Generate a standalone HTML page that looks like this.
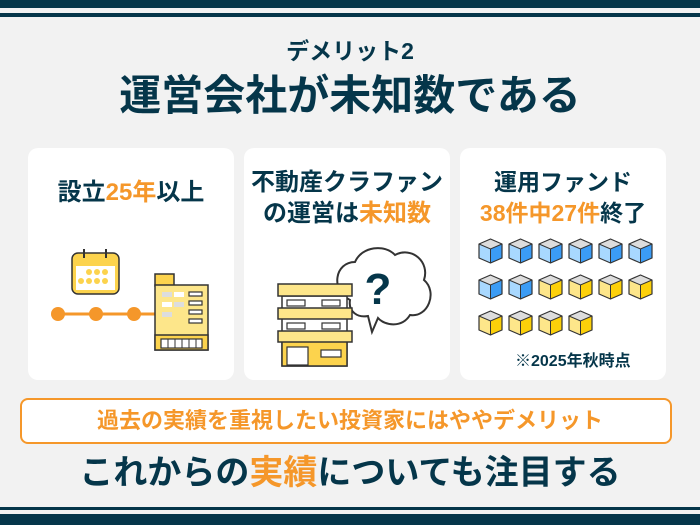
<!DOCTYPE html>
<html><head><meta charset="utf-8"><style>
body{margin:0;width:700px;height:525px;background:#f2f2f2;position:relative;overflow:hidden;font-family:"Liberation Sans","Noto Sans CJK JP",sans-serif;font-weight:bold;color:#05364a}
.abs{position:absolute}
.card{position:absolute;top:148px;width:206px;height:232px;background:#fff;border-radius:10px}
.t{position:absolute;left:0;right:0;text-align:center;white-space:nowrap}
.o{color:#f5972a}
</style></head><body>
<div class="abs" style="left:0;top:0;width:700px;height:8px;background:#05364a"></div>
<div class="abs" style="left:0;top:13px;width:700px;height:4px;background:#05364a"></div>
<div class="abs" style="left:0;top:507px;width:700px;height:3px;background:#05364a"></div>
<div class="abs" style="left:0;top:514px;width:700px;height:11px;background:#05364a"></div>

<div class="t" style="top:36px;font-size:23px;line-height:30px">デメリット2</div>
<div class="t" style="top:71px;font-size:42px;line-height:50px">運営会社が未知数である</div>

<div class="card" style="left:28px"></div>
<div class="card" style="left:244px"></div>
<div class="card" style="left:460px"></div>

<div class="t" style="left:28px;width:206px;top:178px;font-size:24px;line-height:30px">設立<span class="o">25年</span>以上</div>
<div class="t" style="left:244px;width:206px;top:167px;font-size:24px;line-height:31px">不動産クラファン<br>の運営は<span class="o">未知数</span></div>
<div class="t" style="left:460px;width:206px;top:167px;font-size:23px;line-height:31px">運用ファンド<br><span class="o">38件中27件</span>終了</div>
<div class="abs" style="left:515px;top:351px;font-size:16px;line-height:22px">※2025年秋時点</div>

<svg class="abs" style="left:0;top:0" width="700" height="525">
<g stroke="#333" stroke-width="1.5" stroke-linejoin="round">
<rect x="72" y="253" width="47" height="41" rx="6" fill="#fcd34d"/>
<rect x="76" y="266" width="39" height="24" fill="#fff" stroke="none"/>
</g>
<g fill="#fcd34d"><circle cx="89" cy="272" r="3"/><circle cx="97" cy="272" r="3"/><circle cx="105" cy="272" r="3"/>
<circle cx="81" cy="281" r="3"/><circle cx="89" cy="281" r="3"/><circle cx="97" cy="281" r="3"/><circle cx="105" cy="281" r="3"/></g>
<line x1="84" y1="249" x2="84" y2="258" stroke="#333" stroke-width="2"/><line x1="106" y1="249" x2="106" y2="258" stroke="#333" stroke-width="2"/>
<line x1="58" y1="314" x2="158" y2="314" stroke="#f5972a" stroke-width="3"/>
<circle cx="58" cy="314" r="7" fill="#f5972a"/><circle cx="96" cy="314" r="7" fill="#f5972a"/><circle cx="134" cy="314" r="7" fill="#f5972a"/>
<g stroke="#333" stroke-width="1.5">
<rect x="155" y="274" width="19" height="12" fill="#fcd34d"/>
<rect x="155" y="285" width="53" height="65" fill="#fde68a"/>
<rect x="155" y="335" width="53" height="15" fill="#fcd34d"/>
</g>
<g fill="#fff" stroke="#333" stroke-width="1.2">
<rect x="189" y="292" width="13" height="4"/><rect x="189" y="301" width="13" height="4"/><rect x="189" y="310" width="13" height="4"/><rect x="189" y="319" width="13" height="4"/>
<rect x="161" y="339" width="41" height="9"/></g>
<g fill="#ddd"><rect x="162" y="292" width="10" height="5"/><rect x="174" y="292" width="10" height="5" fill="#fff"/><rect x="162" y="302" width="10" height="5" fill="#fff"/><rect x="174" y="302" width="10" height="5"/><rect x="162" y="312" width="10" height="5"/></g>
<g stroke="#333" stroke-width="1"><line x1="168" y1="339" x2="168" y2="348"/><line x1="175" y1="339" x2="175" y2="348"/><line x1="182" y1="339" x2="182" y2="348"/><line x1="189" y1="339" x2="189" y2="348"/><line x1="196" y1="339" x2="196" y2="348"/></g>

<path d="M350 300 C330 290 335 262 355 262 C362 246 385 244 395 255 C412 246 430 262 424 280 C438 292 428 318 410 315 C402 328 385 326 378 318 L372 332 L368 316 C358 318 348 312 350 300Z" fill="#fff" stroke="#333" stroke-width="2"/>
<text x="378" y="304" font-size="44" text-anchor="middle" fill="#05364a" font-family="Liberation Sans" font-weight="bold">?</text>
<g stroke="#333" stroke-width="1.5">
<rect x="282" y="296" width="65" height="70" fill="#fff"/>
<rect x="282" y="341" width="65" height="25" fill="#fcd34d"/>
<rect x="278" y="284" width="74" height="12" fill="#fde68a"/>
<rect x="278" y="308" width="74" height="11" fill="#fde68a"/>
<rect x="278" y="331" width="74" height="11" fill="#fde68a"/>
</g>
<g fill="#fff" stroke="#333" stroke-width="1.2">
<rect x="287" y="300" width="18" height="6"/><rect x="322" y="300" width="18" height="6"/>
<rect x="287" y="323" width="18" height="6"/><rect x="322" y="323" width="18" height="6"/>
<rect x="287" y="347" width="21" height="18"/><rect x="321" y="350" width="20" height="7"/></g>

<defs><g id="cb"><polygon points="11.5,0 23,5 11.5,10 0,5" fill="#ddd"/><polygon points="0,5 11.5,10 11.5,24 0,19" fill="var(--l)"/><polygon points="11.5,10 23,5 23,19 11.5,24" fill="var(--r)"/><polygon points="11.5,0 23,5 23,19 11.5,24 0,19 0,5" fill="none" stroke="#333" stroke-width="1.2" stroke-linejoin="round"/><line x1="11.5" y1="10" x2="11.5" y2="24" stroke="#333" stroke-width="1"/><polyline points="0,5 11.5,10 23,5" fill="none" stroke="#333" stroke-width="1"/></g></defs>
<g style="--l:#a8d8ff;--r:#3b9cf5">
<use href="#cb" x="479" y="239"/><use href="#cb" x="509" y="239"/><use href="#cb" x="539" y="239"/><use href="#cb" x="569" y="239"/><use href="#cb" x="599" y="239"/><use href="#cb" x="629" y="239"/>
<use href="#cb" x="479" y="275"/><use href="#cb" x="509" y="275"/></g>
<g style="--l:#fde68a;--r:#fcd00a">
<use href="#cb" x="539" y="275"/><use href="#cb" x="569" y="275"/><use href="#cb" x="599" y="275"/><use href="#cb" x="629" y="275"/>
<use href="#cb" x="479" y="311"/><use href="#cb" x="509" y="311"/><use href="#cb" x="539" y="311"/><use href="#cb" x="569" y="311"/></g>
</svg>

<div class="abs" style="left:20px;top:398px;width:648px;height:42px;border:2px solid #f5972a;border-radius:8px;background:#fff"></div>
<div class="t o" style="top:405px;font-size:22px;line-height:32px">過去の実績を重視したい投資家にはややデメリット</div>
<div class="t" style="top:451px;font-size:34px;line-height:44px">これからの<span class="o">実績</span>についても注目する</div>
</body></html>
